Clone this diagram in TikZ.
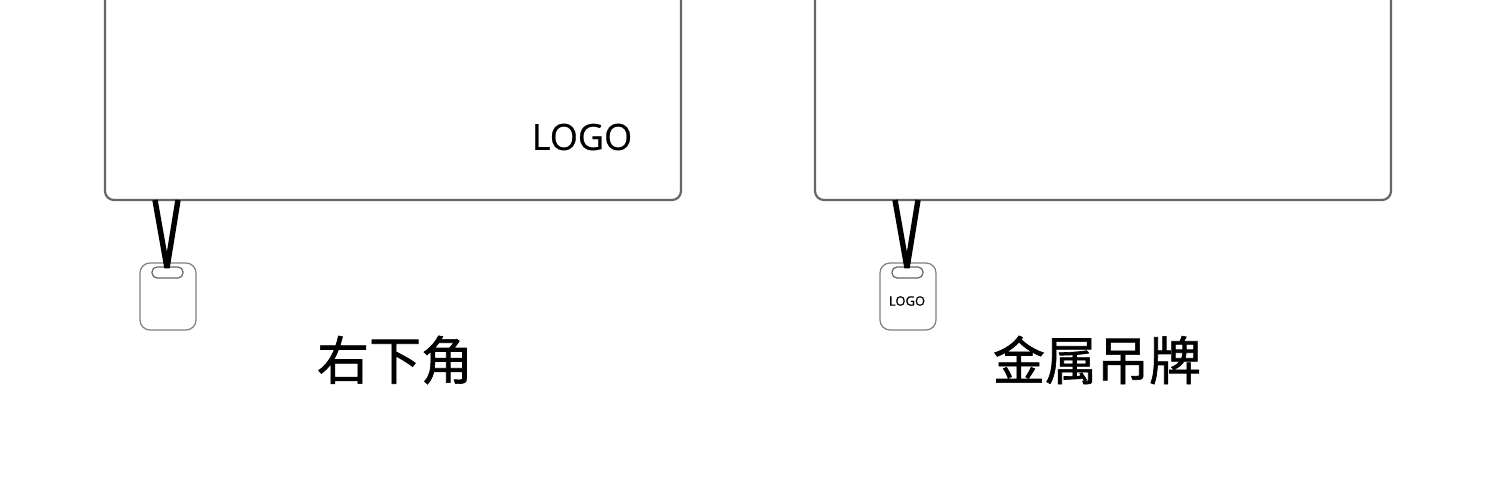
\documentclass[tikz,border=0pt]{standalone}
\usepackage{fontspec}
\setmainfont{Open Sans}
\newfontfamily\cjk[FakeBold=1.2]{Noto Sans CJK SC}
\newfontfamily\logofont[FakeBold=0.6]{Open Sans}
\begin{document}
\begin{tikzpicture}[x=0.5pt,y=-0.5pt,
  board/.style={draw=black!60,line width=1.1pt,rounded corners=4.5pt,fill=white},
  tagbox/.style={draw=black!50,line width=0.6pt,rounded corners=5pt,fill=white},
  slotbox/.style={draw=black!60,line width=0.6pt,rounded corners=2.5pt},
  strap/.style={draw=black,line width=2.7pt,line join=bevel},
  caption/.style={font=\cjk\fontsize{26pt}{30pt}\selectfont,inner sep=0pt}]
\useasboundingbox (0,0) rectangle (1500,498);
\clip (0,0) rectangle (1500,498);
% left panel
\draw[board] (105,-30) rectangle (681,200);
\node[inner sep=0pt,font=\logofont\fontsize{18pt}{20pt}\selectfont] (logoA) at (582,137) {LOGO};
\draw[tagbox] (140,263) rectangle (196,330);
\draw[slotbox] (152,267) rectangle (183,278);
\coordinate (kA) at (167,268);
\draw[strap] (155,200) -- (kA) -- (178,200);
\node[caption] (capA) at (395,360) {右下角};
% right panel
\draw[board] (815,-30) rectangle (1391,200);
\draw[tagbox] (880,263) rectangle (936,330);
\draw[slotbox] (892,267) rectangle (923,278);
\node[inner sep=0pt,font=\logofont\fontsize{6.5pt}{7pt}\selectfont] (logoB) at (907,301) {LOGO};
\coordinate (kB) at (907,268);
\draw[strap] (895,200) -- (kB) -- (918,200);
\node[caption] (capB) at (1097,360) {金属吊牌};
\end{tikzpicture}
\end{document}
